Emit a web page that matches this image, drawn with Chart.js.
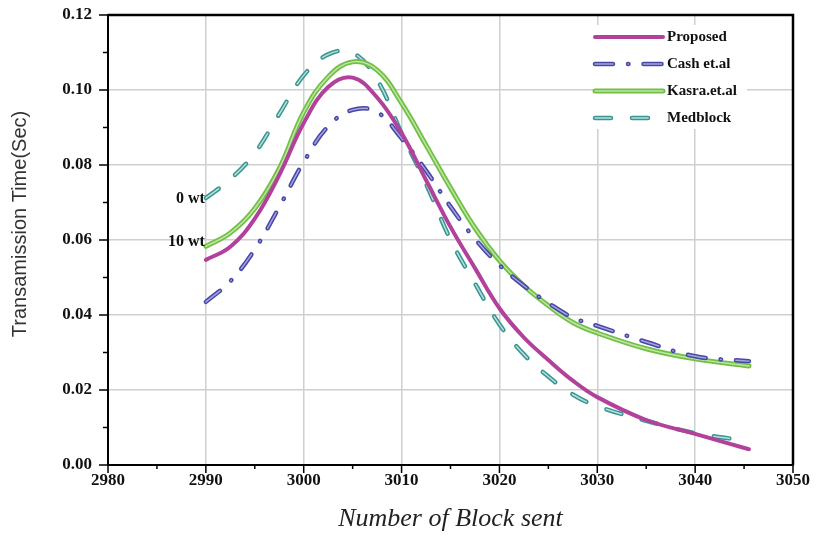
<!DOCTYPE html>
<html>
<head>
<meta charset="utf-8">
<script src="https://cdn.jsdelivr.net/npm/chart.js@4.4.1/dist/chart.umd.min.js"></script>
<style>
  html, body { margin: 0; padding: 0; background: #fff; }
</style>
</head>
<body>
<canvas id="myChart" width="819" height="538"></canvas>
<script>
// valores
const blockSent = [2990, 2992.5, 2995, 2997.5, 3000, 3002.5, 3005, 3007.5, 3010, 3012.5, 3015, 3017.5, 3020, 3022.5, 3025, 3027.5, 3030, 3035, 3040, 3045.5];
const proposed  = [0.0547, 0.0582, 0.0657, 0.0773, 0.0912, 0.1008, 0.1033, 0.098, 0.0885, 0.076, 0.0635, 0.0525, 0.0418, 0.034, 0.028, 0.0225, 0.0181, 0.012, 0.0083, 0.0042];
const cashEtAl  = [0.0435, 0.049, 0.0575, 0.0688, 0.0808, 0.0903, 0.0947, 0.0941, 0.0871, 0.0785, 0.0689, 0.0603, 0.0533, 0.0478, 0.0432, 0.0393, 0.0371, 0.0328, 0.029, 0.0277];
const kasra     = [0.0583, 0.0619, 0.0684, 0.079, 0.0941, 0.1035, 0.1075, 0.1053, 0.0965, 0.0853, 0.0739, 0.0632, 0.0545, 0.0478, 0.0425, 0.038, 0.0352, 0.031, 0.0283, 0.0264];
const medblock  = [0.0712, 0.0762, 0.0832, 0.0936, 0.1039, 0.1095, 0.1099, 0.1027, 0.0885, 0.075, 0.0601, 0.0484, 0.0375, 0.0295, 0.0236, 0.0188, 0.0157, 0.0118, 0.0085, 0.0064];

const xTicks = [2980, 2990, 3000, 3010, 3020, 3030, 3040, 3050];
const yTicks = [0, 0.02, 0.04, 0.06, 0.08, 0.10, 0.12];
const tituloY = "Transamission Time(Sec)";
const tituloX = "Number of Block sent";

const series = [
    { label: "Proposed",    values: proposed, color: "#b2419c", inner: null,      width: 4,   dash: [] },
    { label: "Cash et.al",  values: cashEtAl, color: "#4747a6", inner: "#a4a4e0", width: 4.5, dash: [18, 15, 0.5, 15] },
    { label: "Kasra.et.al", values: kasra,    color: "#72bf45", inner: "#bde6a4", width: 5,   dash: [] },
    { label: "Medblock",    values: medblock, color: "#3a9591", inner: "#b3e0dd", width: 4.5, dash: [16, 21] }
];

const etiquetas = [
    { texto: "0 wt",  serie: 3, dy: 1 },
    { texto: "10 wt", serie: 2, dy: -5 }
];

function puntos(valores) {
    return valores.map((v, i) => ({ x: blockSent[i], y: v }));
}

const datasets = [];
series.forEach((s, i) => {
    datasets.push({
        label: s.label,
        data: puntos(s.values),
        borderColor: s.color,
        borderWidth: s.width,
        borderDash: s.dash,
        borderCapStyle: "round",
        pointRadius: 0,
        fill: false,
        tension: 0.4,
        order: 2 * i + 1
    });
    if (s.inner) {
        datasets.push({
            label: s.label + "_inner",
            data: puntos(s.values),
            borderColor: s.inner,
            borderWidth: 1.5,
            borderDash: s.dash,
            borderCapStyle: "round",
            pointRadius: 0,
            fill: false,
            tension: 0.4,
            order: 2 * i
        });
    }
});

// marco superior/derecho, marcas menores y titulo del eje y
const ejesPlugin = {
    id: "ejes",
    afterDraw(chart) {
        const ctx = chart.ctx;
        const a = chart.chartArea;
        const sx = chart.scales.x, sy = chart.scales.y;
        ctx.save();
        ctx.strokeStyle = "#000";
        ctx.lineWidth = 1.5;
        xTicks.forEach((v, i) => {
            let px = sx.getPixelForValue(v);
            ctx.beginPath(); ctx.moveTo(px, a.bottom); ctx.lineTo(px, a.bottom + 8); ctx.stroke();
            if (i < xTicks.length - 1) {
                px = sx.getPixelForValue((v + xTicks[i + 1]) / 2);
                ctx.beginPath(); ctx.moveTo(px, a.bottom); ctx.lineTo(px, a.bottom + 4); ctx.stroke();
            }
        });
        yTicks.forEach((v, i) => {
            let py = sy.getPixelForValue(v);
            ctx.beginPath(); ctx.moveTo(a.left - 9, py); ctx.lineTo(a.left, py); ctx.stroke();
            if (i < yTicks.length - 1) {
                py = sy.getPixelForValue((v + yTicks[i + 1]) / 2);
                ctx.beginPath(); ctx.moveTo(a.left - 5, py); ctx.lineTo(a.left, py); ctx.stroke();
            }
        });
        ctx.lineWidth = 2.5;
        ctx.beginPath();
        ctx.moveTo(a.left, a.top);
        ctx.lineTo(a.right, a.top);
        ctx.lineTo(a.right, a.bottom);
        ctx.stroke();

        ctx.translate(20, (a.top + a.bottom) / 2 - 16);
        ctx.rotate(-Math.PI / 2);
        ctx.font = "20px 'Liberation Sans'";
        ctx.fillStyle = "#333";
        ctx.textAlign = "center";
        ctx.textBaseline = "middle";
        ctx.fillText(tituloY, 0, 0);
        ctx.restore();
    }
};

const leyendaPlugin = {
    id: "leyenda",
    afterDraw(chart) {
        const ctx = chart.ctx;
        const a = chart.chartArea;
        const x0 = a.right - 198, x1 = a.right - 130;
        ctx.save();
        ctx.fillStyle = "#fff";
        ctx.fillRect(x0 - 2, a.top + 10, 154, 104);
        series.forEach((s, i) => {
            const y = a.top + 22 + i * 27;
            ctx.lineCap = "round";
            ctx.setLineDash(s.dash);
            ctx.strokeStyle = s.color;
            ctx.lineWidth = s.width;
            ctx.beginPath(); ctx.moveTo(x0, y); ctx.lineTo(x1, y); ctx.stroke();
            if (s.inner) {
                ctx.strokeStyle = s.inner;
                ctx.lineWidth = 1.5;
                ctx.beginPath(); ctx.moveTo(x0, y); ctx.lineTo(x1, y); ctx.stroke();
            }
            ctx.setLineDash([]);
            ctx.fillStyle = "#111";
            ctx.font = "bold 15px 'Liberation Serif'";
            ctx.textAlign = "left";
            ctx.textBaseline = "middle";
            ctx.fillText(s.label, x1 + 4, y);
        });
        // etiquetas 0 wt / 10 wt
        ctx.font = "bold 16px 'Liberation Serif'";
        ctx.textAlign = "right";
        ctx.fillStyle = "#111";
        etiquetas.forEach((e) => {
            const idx = datasets.findIndex((d) => d.label === series[e.serie].label);
            const p = chart.getDatasetMeta(idx).data[0];
            ctx.fillText(e.texto, p.x - 1, p.y + e.dy);
        });
        ctx.restore();
    }
};

const config = {
    type: "line",
    data: { datasets: datasets },
    options: {
        responsive: false,
        animation: false,
        layout: { padding: { top: 15, right: 26, left: 0, bottom: 0 } },
        plugins: {
            legend: { display: false },
            tooltip: { enabled: false }
        },
        scales: {
            x: {
                type: "linear",
                min: 2980,
                max: 3050,
                afterBuildTicks: (s) => { s.ticks = xTicks.map((v) => ({ value: v })); },
                afterFit: (s) => { s.height = 73; s.paddingLeft = 0; s.paddingRight = 0; },
                ticks: {
                    callback: (v) => String(v),
                    font: { family: "'Liberation Serif'", weight: "bold", size: 17 },
                    color: "#111",
                    padding: 5,
                    maxRotation: 0
                },
                grid: { color: "#cfcfcf", lineWidth: 1.5, drawTicks: false },
                border: { color: "#000", width: 2 },
                title: {
                    display: true,
                    text: tituloX,
                    font: { family: "'Liberation Serif'", style: "italic", size: 26 },
                    color: "#222",
                    padding: { top: 0, bottom: 3 }
                }
            },
            y: {
                min: 0,
                max: 0.12,
                afterBuildTicks: (s) => { s.ticks = yTicks.map((v) => ({ value: v })); },
                afterFit: (s) => { s.width = 108; s.paddingTop = 0; s.paddingBottom = 0; },
                ticks: {
                    callback: (v) => v.toFixed(2),
                    font: { family: "'Liberation Serif'", weight: "bold", size: 17 },
                    color: "#111",
                    padding: 16
                },
                grid: { color: "#cfcfcf", lineWidth: 1.5, drawTicks: false },
                border: { color: "#000", width: 2 },
                title: { display: false }
            }
        }
    },
    plugins: [ejesPlugin, leyendaPlugin]
};

new Chart(document.getElementById("myChart"), config);
</script>
</body>
</html>
